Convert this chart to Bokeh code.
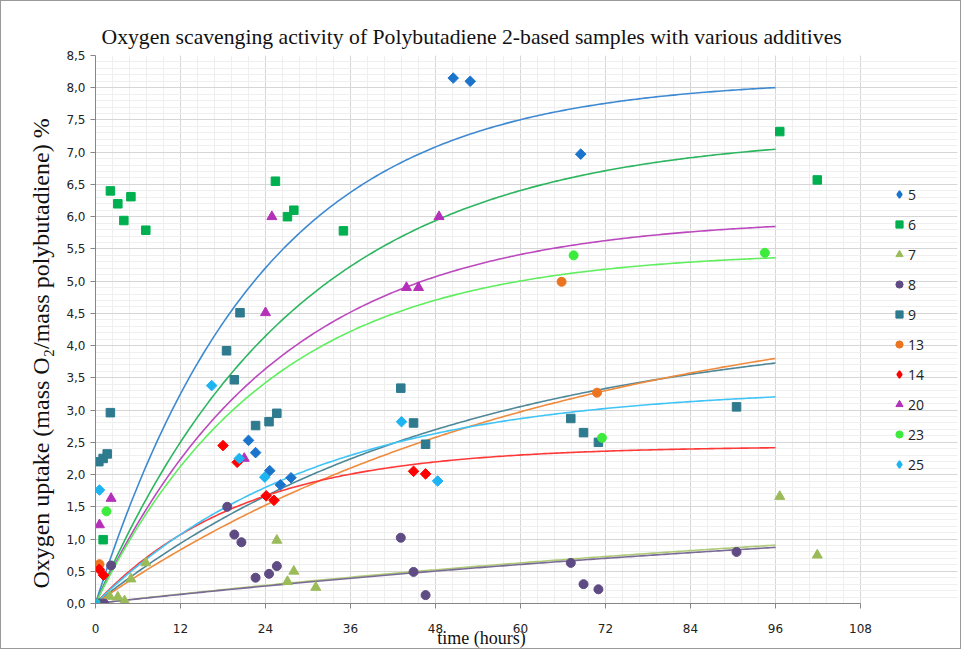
import numpy as np
from bokeh.plotting import figure
from bokeh.models import FixedTicker, Legend, LegendItem, Range1d
from bokeh.embed import file_html
from bokeh.resources import INLINE

# ---------------- data ----------------
series_names = ["5", "6", "7", "8", "9", "13", "14", "20", "23", "25"]

t5 = [0, 21.6, 22.6, 24.6, 26.1, 27.6, 50.5, 52.9, 68.5]
y5 = [0, 2.53, 2.34, 2.06, 1.84, 1.95, 8.15, 8.10, 6.97]

t6 = [0, 1.08, 2.1, 3.15, 4.0, 5.0, 7.1, 25.4, 27.1, 28.0, 35.0, 96.6, 101.9]
y6 = [0, 0.99, 6.40, 6.20, 5.94, 6.31, 5.79, 6.55, 6.0, 6.1, 5.78, 7.32, 6.57]

t7 = [0, 2.0, 3.15, 4.1, 5.0, 7.1, 25.6, 27.1, 28.0, 31.1, 96.6, 101.9]
y7 = [0, 0.11, 0.10, 0.04, 0.38, 0.63, 0.98, 0.34, 0.50, 0.25, 1.66, 0.75]

t8 = [0, 0.6, 1.2, 2.2, 18.6, 19.6, 20.6, 22.6, 24.5, 25.6, 43.1, 44.9, 46.6, 67.1, 68.9, 71.0, 90.5]
y8 = [0, 0, 0, 0.59, 1.50, 1.07, 0.95, 0.40, 0.46, 0.58, 1.02, 0.49, 0.13, 0.63, 0.30, 0.22, 0.80]

t9 = [0, 0.47, 1.08, 1.65, 2.1, 18.5, 19.6, 20.4, 22.6, 24.5, 25.6, 43.1, 44.9, 46.6, 67.1, 68.9, 71.0, 90.5]
y9 = [0, 2.20, 2.25, 2.32, 2.96, 3.92, 3.47, 4.51, 2.76, 2.82, 2.95, 3.34, 2.80, 2.47, 2.87, 2.65, 2.50, 3.05]

t13 = [0, 0.56, 65.8, 70.8]
y13 = [0, 0.61, 4.99, 3.27]

t14 = [0, 0.53, 1.13, 18.0, 20.0, 24.1, 25.2, 44.9, 46.6]
y14 = [0, 0.53, 0.44, 2.45, 2.19, 1.67, 1.60, 2.05, 2.01]

t20 = [0, 0.56, 2.2, 21.0, 24.0, 24.9, 43.9, 45.6, 48.5]
y20 = [0, 1.22, 1.63, 2.25, 4.51, 6.0, 4.9, 4.9, 6.0]

t23 = [0, 1.55, 67.5, 71.5, 94.5]
y23 = [0, 1.43, 5.40, 2.57, 5.44]

t25 = [0, 0.56, 16.4, 20.3, 23.9, 43.2, 48.3]
y25 = [0, 1.76, 3.38, 2.25, 1.96, 2.82, 1.90]

# fitted trendlines y = A * (1 - exp(-k t)), drawn for t in [0, 96]
fit_A = {"5": 8.14, "6": 7.30, "7": 1.95, "8": 1.875, "9": 4.37,
         "13": 4.91, "14": 2.44, "20": 5.99, "23": 5.47, "25": 3.36}
fit_k = {"5": 0.0425, "6": 0.035, "7": 0.0065, "8": 0.0065, "9": 0.020,
         "13": 0.0155, "14": 0.048, "20": 0.039, "23": 0.041, "25": 0.032}
fit_tmax = 96

x_ticks = [0, 12, 24, 36, 48, 60, 72, 84, 96, 108]
y_ticks = [i * 0.5 for i in range(18)]
y_tick_labels = {v: ("%.1f" % v).replace(".", ",") for v in y_ticks}

title_text = "Oxygen scavenging activity of Polybutadiene 2-based samples with various additives"
x_title = "time (hours)"
y_title = "Oxygen uptake (mass O\u2082/mass polybutadiene) %"

# ---------------- styles ----------------
marker_color = {"5": "#1B74CC", "6": "#00B050", "7": "#9BBB59", "8": "#5F4B84",
                "9": "#2E7A8E", "13": "#EC7420", "14": "#FF0000", "20": "#B530B8",
                "23": "#3DEB3D", "25": "#1DB4F2"}
line_color = {"5": "#3E8AD2", "6": "#2DB560", "7": "#AFCB78", "8": "#7A6A96",
              "9": "#4E8898", "13": "#F08A3C", "14": "#FF3838", "20": "#BC48BE",
              "23": "#60EE60", "25": "#40C4F6"}
marker_kind = {"5": "diamond", "6": "square", "7": "triangle", "8": "circle",
               "9": "square", "13": "circle", "14": "diamond", "20": "triangle",
               "23": "circle", "25": "diamond"}
marker_shape = {"diamond": "square", "square": "square", "triangle": "triangle", "circle": "circle"}
marker_angle = {"diamond": np.pi / 4, "square": 0.0, "triangle": 0.0, "circle": 0.0}
marker_size = {"diamond": 7.5, "square": 8.5, "triangle": 10, "circle": 9}

data = {"5": (t5, y5), "6": (t6, y6), "7": (t7, y7), "8": (t8, y8), "9": (t9, y9),
        "13": (t13, y13), "14": (t14, y14), "20": (t20, y20), "23": (t23, y23),
        "25": (t25, y25)}

# frame extends to the right edge so the legend sits inside it; axis/grid bounded to 0..108
W, H = 961, 649
left, right, top, bottom = 94, 5, 54, 45
px_per_hour = 765 / 108.0
x_max_view = (W - left - right) / px_per_hour

p = figure(width=W, height=H, output_backend="svg", toolbar_location=None,
           x_range=Range1d(0, x_max_view), y_range=Range1d(0, 8.5),
           min_border_left=left, min_border_right=right, min_border_top=top,
           min_border_bottom=bottom)
p.styles = {"border": "1px solid #9a9a9a"}
p.outline_line_color = None
p.background_fill_color = "white"

p.title.text = title_text
p.title.align = "left"
p.title.offset = 6
p.title.text_font = "Liberation Serif"
p.title.text_font_size = "21.7px"
p.title.text_font_style = "normal"
p.title.text_color = "#111111"
p.title.standoff = 14

p.xaxis.ticker = FixedTicker(ticks=x_ticks, minor_ticks=[])
p.yaxis.ticker = FixedTicker(ticks=y_ticks, minor_ticks=[])
p.xgrid.ticker = FixedTicker(ticks=x_ticks, minor_ticks=[i * 2.4 for i in range(46)])
p.ygrid.ticker = FixedTicker(ticks=y_ticks, minor_ticks=[i * 0.1 for i in range(86)])
p.yaxis.major_label_overrides = y_tick_labels
p.xaxis.bounds = (0, 108)
p.xgrid.bounds = (0, 108)
p.ygrid.bounds = (0, 8.5)

for ax in (p.xaxis, p.yaxis):
    ax.axis_line_color = "#868686"
    ax.major_tick_line_color = "#868686"
    ax.major_tick_out = 5
    ax.major_tick_in = 0
    ax.minor_tick_line_color = None
    ax.major_label_text_font = "DejaVu Sans"
    ax.major_label_text_font_size = "12px"
    ax.major_label_text_color = "#222222"
    ax.axis_label_text_font = "Liberation Serif"
    ax.axis_label_text_font_style = "normal"
    ax.axis_label_text_color = "#111111"

# trailing no-break spaces move the centred axis titles to where the reference has them
p.xaxis.axis_label = x_title + "\u00a0" * 20
p.xaxis.axis_label_text_font_size = "18px"
p.xaxis.major_label_standoff = 15
p.xaxis.axis_label_standoff = -8
p.yaxis.axis_label = y_title + "\u00a0" * 8
p.yaxis.axis_label_text_font_size = "24px"
p.yaxis.axis_label_standoff = 9
p.yaxis.major_label_standoff = 5

p.xgrid.grid_line_color = "#d6d6d6"
p.ygrid.grid_line_color = "#d6d6d6"
p.xgrid.minor_grid_line_color = "#efefef"
p.ygrid.minor_grid_line_color = "#efefef"

# legend swatches for the diamond series: the legend does not rotate markers,
# so a diamond-marker renderer (its only point is the series' origin point,
# hidden under the other origin markers) is drawn first and used in the legend
legend_swatch = {}
for s in series_names:
    if marker_kind[s] == "diamond":
        tx, ty = data[s]
        legend_swatch[s] = p.scatter(tx[:1], ty[:1], marker="diamond", size=9,
                                     fill_color=marker_color[s], line_color=marker_color[s],
                                     line_width=1.5)

# trendlines
tt = np.linspace(0, fit_tmax, 240)
for s in series_names:
    p.line(tt, fit_A[s] * (1 - np.exp(-fit_k[s] * tt)), line_color=line_color[s], line_width=1.6)

items = []
for s in series_names:
    tx, ty = data[s]
    m = marker_kind[s]
    r = p.scatter(tx, ty, marker=marker_shape[m], angle=marker_angle[m], size=marker_size[m],
                  fill_color=marker_color[s], line_color=marker_color[s], line_width=1)
    items.append(LegendItem(label=s, renderers=[legend_swatch.get(s, r)]))

legend = Legend(items=items, location=(795, 129), orientation="vertical",
                glyph_width=18, glyph_height=20, label_height=20, spacing=10,
                label_standoff=-1, padding=0, margin=0,
                background_fill_alpha=0, border_line_color=None,
                label_text_font="Open Sans", label_text_font_size="14px",
                label_text_color="#222222")
p.add_layout(legend, "center")

open("out.html", "w").write(file_html(p, INLINE))
